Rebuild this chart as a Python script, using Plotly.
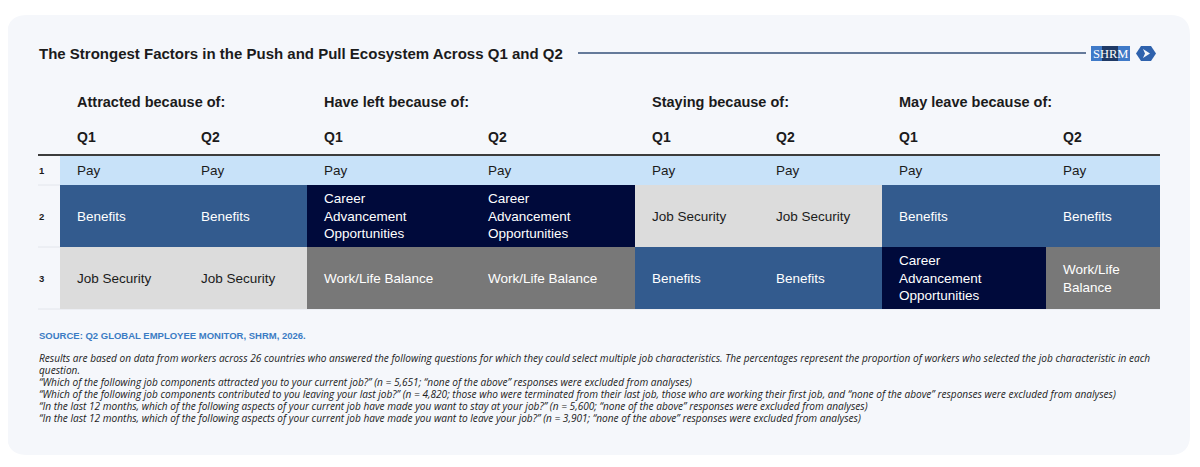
import plotly.graph_objects as go

# ---- data ----
groups = ["Attracted because of:", "Have left because of:", "Staying because of:", "May leave because of:"]
quarters = ["Q1", "Q2", "Q1", "Q2", "Q1", "Q2", "Q1", "Q2"]
ranks = ["1", "2", "3"]

factors = ["Pay", "Benefits", "Career Advancement Opportunities", "Job Security", "Work/Life Balance"]
factor_colors = ["#c8e2f9", "#335b8e", "#000a3b", "#dcdcdc", "#787878"]
factor_text_colors = ["#1b1b1b", "#ffffff", "#ffffff", "#1b1b1b", "#ffffff"]

rank1 = ["Pay", "Pay", "Pay", "Pay", "Pay", "Pay", "Pay", "Pay"]
rank2 = ["Benefits", "Benefits", "Career Advancement Opportunities", "Career Advancement Opportunities",
         "Job Security", "Job Security", "Benefits", "Benefits"]
rank3 = ["Job Security", "Job Security", "Work/Life Balance", "Work/Life Balance",
         "Benefits", "Benefits", "Career Advancement Opportunities", "Work/Life Balance"]

title = "The Strongest Factors in the Push and Pull Ecosystem Across Q1 and Q2"
source = "SOURCE: Q2 GLOBAL EMPLOYEE MONITOR, SHRM, 2026."
notes = [
    "Results are based on data from workers across 26 countries who answered the following questions for which they could select multiple job characteristics. The percentages represent the proportion of workers who selected the job characteristic in each",
    "question.",
    "\u201cWhich of the following job components attracted you to your current job?\u201d (n = 5,651; \u201cnone of the above\u201d responses were excluded from analyses)",
    "\u201cWhich of the following job components contributed to you leaving your last job?\u201d (n = 4,820; those who were terminated from their last job, those who are working their first job, and \u201cnone of the above\u201d responses were excluded from analyses)",
    "\u201cIn the last 12 months, which of the following aspects of your current job have made you want to stay at your job?\u201d (n = 5,600; \u201cnone of the above\u201d responses were excluded from analyses)",
    "\u201cIn the last 12 months, which of the following aspects of your current job have made you want to leave your job?\u201d (n = 3,901; \u201cnone of the above\u201d responses were excluded from analyses)",
]

# ---- layout geometry (pixels of the 1200x467 page) ----
W, H = 1200, 467
off = 8  # default body margin of the html page
col_edges = [60, 184, 307, 471, 635, 759, 882, 1046, 1160]
row_edges = [156, 185, 247, 309]
left = 38
pad = 16
font = "Liberation Sans"
note_font = "Open Sans"

rows = [rank1, rank2, rank3]
z = [[factors.index(v) for v in r] for r in rows]
n = len(factors)
scale = [[i / (n - 1), c] for i, c in enumerate(factor_colors)]

fig = go.Figure()
fig.add_trace(go.Heatmap(
    x=col_edges, y=row_edges, z=z, zmin=0, zmax=n - 1,
    colorscale=scale, showscale=False, hoverinfo="skip",
))

ann = []
def txt(x, y, s, size, color="#1b1b1b", bold=False, italic=False, family=font, xanchor="left"):
    if bold:
        s = "<b>" + s + "</b>"
    if italic:
        s = "<i>" + s + "</i>"
    ann.append(dict(x=x, y=y, xref="x", yref="y", text=s, showarrow=False, xanchor=xanchor,
                    yanchor="middle", align="left", borderpad=0,
                    font=dict(family=family, size=size, color=color)))

# cell labels
wrap = {"Career Advancement Opportunities": "Career<br>Advancement<br>Opportunities"}
for ri, r in enumerate(rows):
    yc = (row_edges[ri] + row_edges[ri + 1]) / 2
    for ci, v in enumerate(r):
        label = wrap.get(v, v)
        if v == "Work/Life Balance" and col_edges[ci + 1] - col_edges[ci] < 140:
            label = "Work/Life<br>Balance"
        txt(col_edges[ci] + pad, yc, label, 13.5, factor_text_colors[factors.index(v)])
    txt(left, yc, ranks[ri], 9.5, bold=True)

# headers
for gi, g in enumerate(groups):
    txt(col_edges[gi * 2] + pad, 102, g, 14.5, bold=True)
for ci, q in enumerate(quarters):
    txt(col_edges[ci] + pad, 137, q, 14, bold=True)

txt(left, 53, title, 15, bold=True)
txt(left, 335, source, 9.5, color="#3b7cc4", bold=True)
for i, s in enumerate(notes):
    txt(left, 358 + i * 11.9, s, 10.1, color="#222222", italic=True, family=note_font)

# logo text
txt(1110.5, 53.5, "SHRM", 12.5, color="#ffffff", family="Liberation Serif", xanchor="center")

shapes = [
    # panel
    dict(type="path", xref="x", yref="y", layer="below", line=dict(width=0), fillcolor="#f5f7fb",
         path="M 27 15 L 1170 15 Q 1190 15 1190 35 L 1190 435 Q 1190 455 1170 455 L 27 455 Q 7 455 7 435 L 7 35 Q 7 15 27 15 Z"),
    # title rule
    dict(type="line", xref="x", yref="y", x0=578, x1=1086, y0=53, y1=53, line=dict(color="#34507a", width=1.5)),
    # table top rule
    dict(type="line", xref="x", yref="y", x0=left, x1=col_edges[-1], y0=row_edges[0] - 1, y1=row_edges[0] - 1,
         line=dict(color="#3c3c3c", width=2)),
    # logo boxes
    dict(type="rect", xref="x", yref="y", x0=1091, x1=1130, y0=46, y1=61, fillcolor="#3f7ac8", line=dict(width=0)),
    dict(type="rect", xref="x", yref="y", x0=1102, x1=1118, y0=46, y1=61, fillcolor="#1f3a66", line=dict(width=0)),
    # logo icon
    dict(type="path", xref="x", yref="y", fillcolor="#2f62ad", line=dict(width=0),
         path="M 1141 46 L 1151 46 L 1156 53.5 L 1151 61 L 1141 61 L 1136 53.5 Z"),
    dict(type="path", xref="x", yref="y", fillcolor="#f5f7fb", line=dict(width=0),
         path="M 1143 49 L 1150 53.5 L 1143 58 L 1145 53.5 Z"),
]
for y in row_edges[1:]:
    shapes.append(dict(type="line", xref="x", yref="y", layer="below", x0=left, x1=col_edges[-1], y0=y, y1=y,
                       line=dict(color="#e3e6ec", width=1)))

fig.update_layout(
    width=W - off, height=H - off, margin=dict(l=0, r=0, t=0, b=0),
    paper_bgcolor="#ffffff", plot_bgcolor="#ffffff",
    xaxis=dict(range=[off, W], visible=False, fixedrange=True),
    yaxis=dict(range=[H, off], visible=False, fixedrange=True),
    annotations=ann, shapes=shapes, showlegend=False,
)
fig.write_html("out.html")
